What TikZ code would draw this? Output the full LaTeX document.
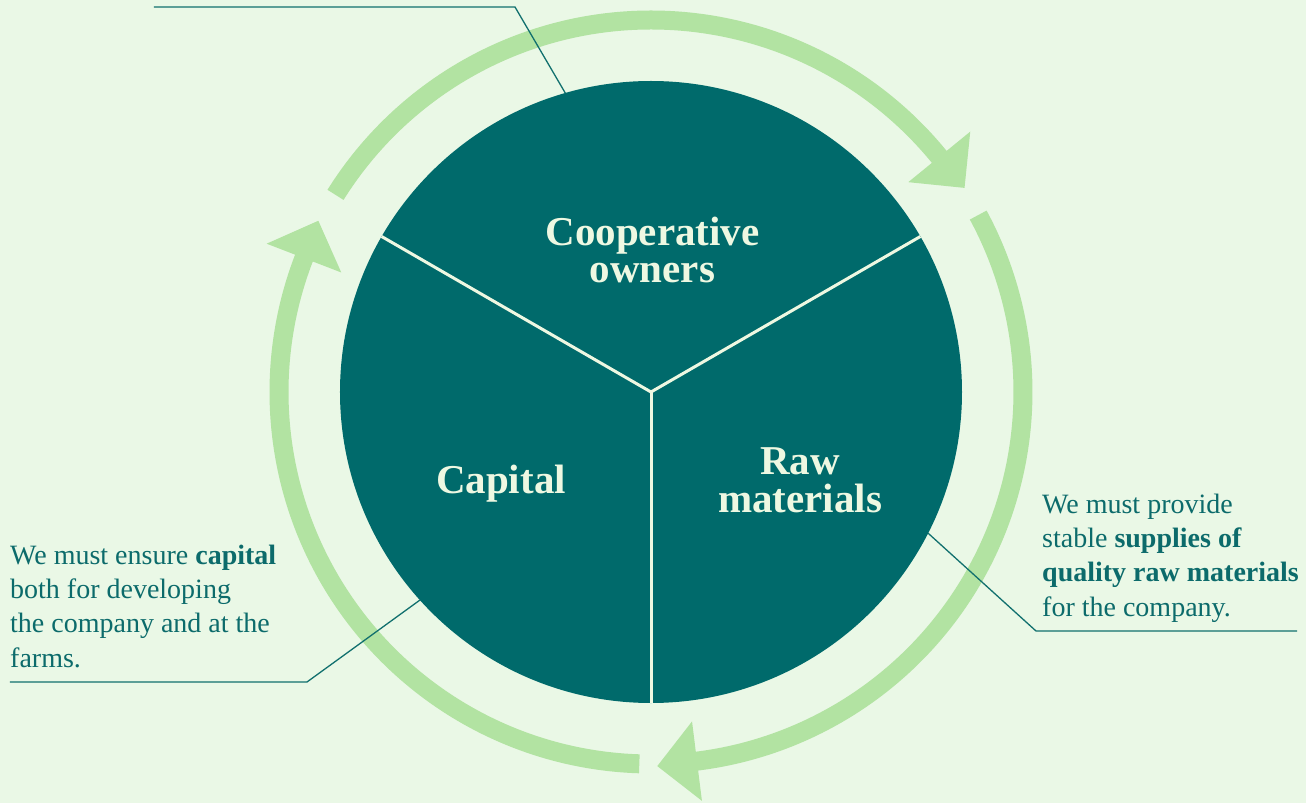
\documentclass[tikz,border=0pt]{standalone}
\usepackage{fontspec}
\setmainfont{Liberation Serif}
\usetikzlibrary{calc}
\definecolor{bg}{HTML}{EAF8E6}
\definecolor{ringc}{HTML}{B2E3A2}
\definecolor{hubc}{HTML}{006A6B}
\definecolor{cream}{HTML}{EEF8E2}
\definecolor{tealtext}{HTML}{0C6B6B}
\definecolor{leader}{HTML}{11706E}
\begin{document}
\begin{tikzpicture}[x=1pt,y=1pt,
  ring/.style={draw=ringc, line width=19pt},
  ahead/.style={fill=ringc},
  titletext/.style={text=cream, font=\bfseries\fontsize{41}{37.5}\selectfont, align=center, inner sep=0},
  bodytext/.style={text=tealtext, font=\fontsize{28}{34.2}\selectfont, align=left, inner sep=0, anchor=base west},
  leaderline/.style={draw=leader, line width=1.3pt},
  divider/.style={draw=cream, line width=3pt}]
\fill[bg] (-651,-411) rectangle (655,392);
\useasboundingbox (-651,-411) rectangle (655,392);
% ring arcs
\draw[ring] (148:372) arc[start angle=148, end angle=38.4, radius=372];
\draw[ring] (28.4:372) arc[start angle=28.4, end angle=-83.7, radius=372];
\draw[ring] (-91.8:372) arc[start angle=-91.8, end angle=-201.9, radius=372];
% arrowheads
\fill[ahead] ($(39.2:372)+(-50.8:40)$) -- (39.2:412) -- (39.2:332) -- cycle;
\fill[ahead] ($(-82.9:372)+(-172.9:40)$) -- (-82.9:412) -- (-82.9:332) -- cycle;
\fill[ahead] ($(158.9:372)+(68.9:40)$) -- (158.9:412) -- (158.9:332) -- cycle;
% hub
\node[circle, fill=hubc, minimum size=622pt, inner sep=0, outer sep=0] (hub) at (0,0) {};
\draw[divider] (hub.center) -- (hub.150);
\draw[divider] (hub.center) -- (hub.30);
\draw[divider] (hub.center) -- (hub.270);
% titles (base = baseline of last line)
\node[titletext, anchor=base] (coop) at (1.5,109) {Cooperative\\owners};
\node[titletext, anchor=base] (cap) at (-150,-101) {Capital};
\node[titletext, anchor=base] (raw) at (149,-120) {Raw\\materials};
% leader lines
\coordinate (tk) at (-136,385);
\coordinate (tend) at (-497,385);
\coordinate (lk) at (-344,-290);
\coordinate (lend) at (-641,-290);
\coordinate (rk) at (385,-239);
\coordinate (rend) at (646,-239);
\draw[leaderline] (hub.106) -- (tk) -- (tend);
\draw[leaderline] (hub.222) -- (lk) -- (lend);
\draw[leaderline] (hub.333) -- (rk) -- (rend);
% body texts (base = baseline of last line)
\node[bodytext] (ltext) at (-641,-275) {We must ensure \textbf{capital}\\both for developing\\the company and at the\\farms.};
\node[bodytext] (rtext) at (391,-224) {We must provide\\stable \textbf{supplies of}\\\textbf{quality raw materials}\\for the company.};
\end{tikzpicture}
\end{document}
